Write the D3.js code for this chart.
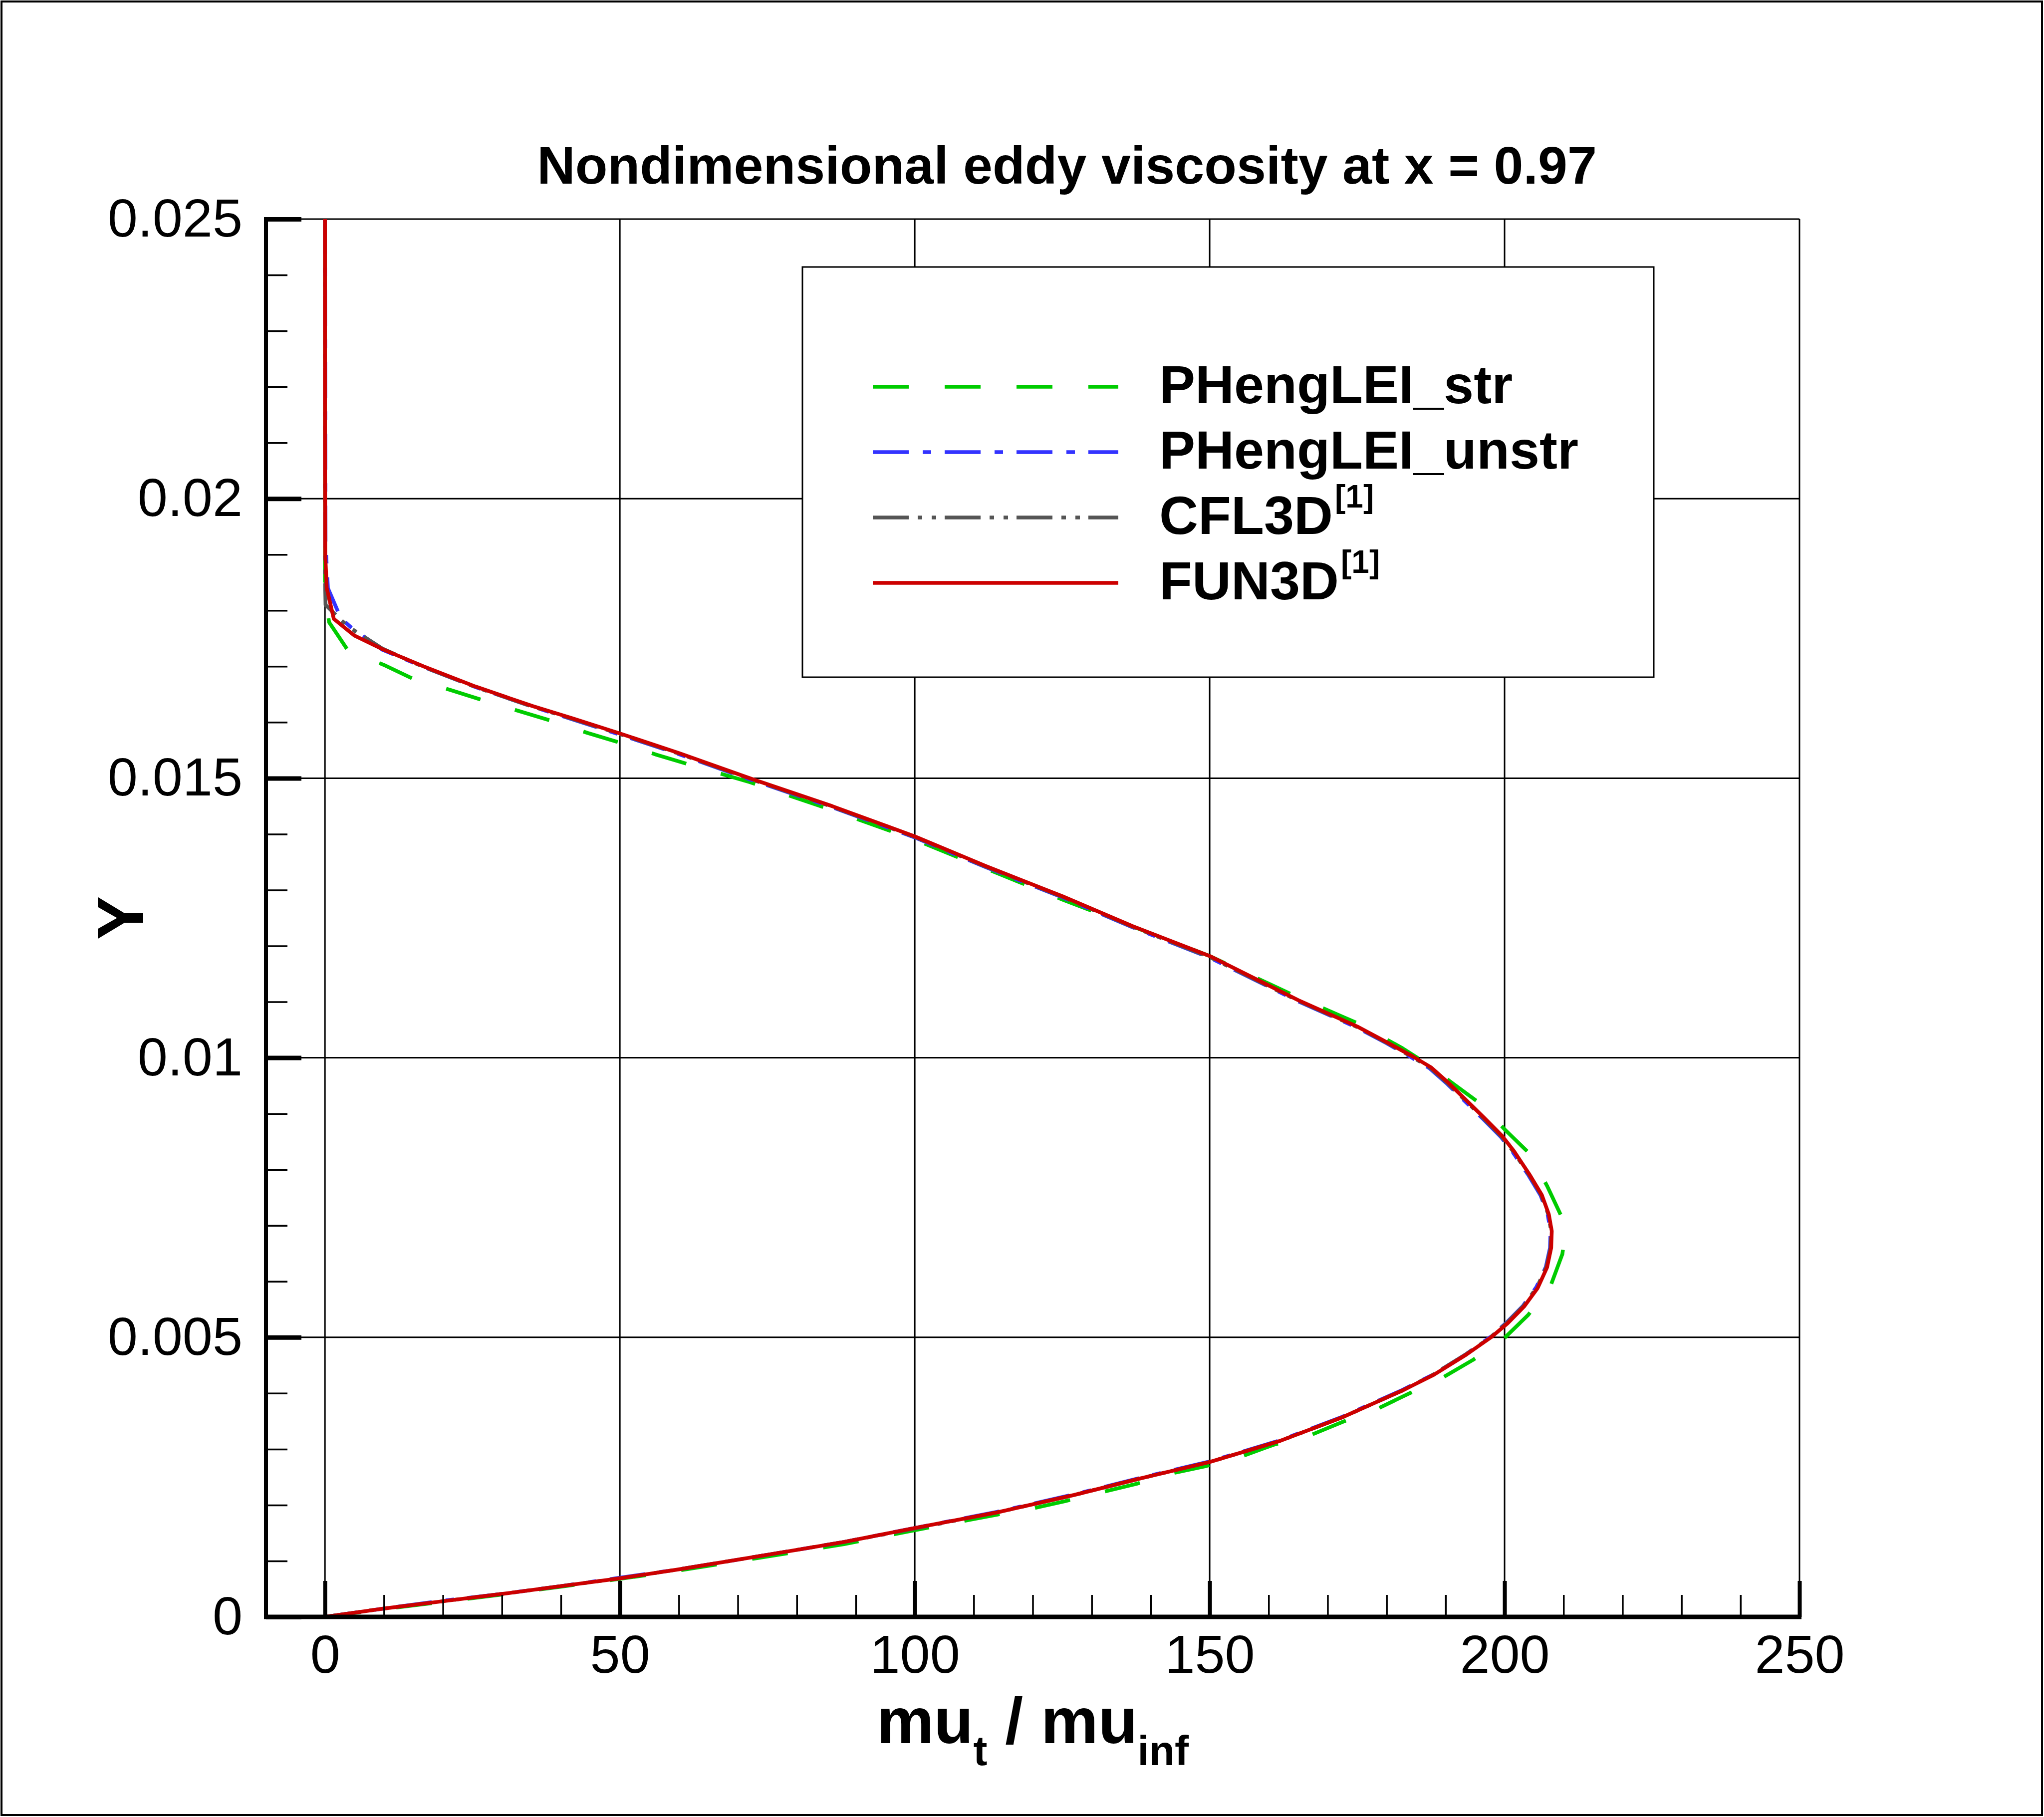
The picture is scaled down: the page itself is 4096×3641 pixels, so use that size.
<!DOCTYPE html>
<html>
<head>
<meta charset="utf-8">
<script src="https://cdn.jsdelivr.net/npm/d3@7"></script>
<style>
	body { margin: 0; background: #fff; }
	svg { display: block; }
	text { font-family: "Liberation Sans", Arial, Helvetica, sans-serif; fill: #000; }
</style>
</head>
<body>
<svg id="chart"></svg>
<script>
const WIDTH = 4096;
const HEIGHT = 3641;

// [mu_t / mu_inf, Y]
const fun3d = [
	[0, 0], [10, 0.00015], [20, 0.00028], [30, 0.00041], [40, 0.00055], [50, 0.00069],
	[60, 0.00085], [75, 0.00111], [88, 0.00134], [100, 0.00159], [114, 0.00187],
	[127, 0.00218], [138, 0.00247], [150, 0.00277], [162, 0.00315], [172.5, 0.00357],
	[182.7, 0.00405], [188, 0.00433], [193.5, 0.00469], [197.7, 0.005], [200.5, 0.00525],
	[203.3, 0.00555], [205.6, 0.00588], [207.2, 0.00625], [207.9, 0.0066], [208, 0.0069],
	[207.5, 0.0072], [206.3, 0.00755], [204.3, 0.0079], [201.6, 0.00833], [199.6, 0.0086],
	[196.5, 0.00893], [193.5, 0.00924], [190.5, 0.00955], [187.5, 0.00983], [184.5, 0.01002],
	[180, 0.01028], [175, 0.01056], [165, 0.01103], [150, 0.01182], [137, 0.01235],
	[125, 0.01289], [112, 0.01343], [100, 0.01396], [86, 0.0145], [72, 0.015],
	[60, 0.01545], [50, 0.0158], [42, 0.01607], [35.2, 0.01629], [25.5, 0.01664],
	[16.7, 0.017], [9.7, 0.01731], [5, 0.01755], [1.5, 0.01785], [0.3, 0.0184],
	[0.05, 0.019], [0, 0.021], [0, 0.025],
];

const cfl3d = [
	[0, 0], [10, 0.00015], [20, 0.00028], [30, 0.00041], [40, 0.00055], [50, 0.00069],
	[60, 0.00085], [75, 0.00111], [88, 0.00134], [100, 0.00158], [114, 0.00187],
	[127, 0.00218], [138, 0.00247], [150, 0.00277], [162, 0.00315], [172.5, 0.00357],
	[182.7, 0.00405], [188, 0.00434], [193.5, 0.0047], [197.6, 0.005], [200.4, 0.00526],
	[203.2, 0.00556], [205.5, 0.0059], [207.1, 0.00626], [207.8, 0.0066], [207.9, 0.0069],
	[207.4, 0.0072], [206.2, 0.00755], [204.2, 0.0079], [201.5, 0.00832], [199.5, 0.00859],
	[196.4, 0.00892], [193.4, 0.00923], [190.4, 0.00954], [187.4, 0.00982], [184.4, 0.01001],
	[180, 0.01027], [175, 0.01055], [165, 0.01102], [150, 0.0118], [137, 0.01234],
	[125, 0.01288], [112, 0.01342], [100, 0.01395], [86, 0.01449], [72, 0.01499],
	[60, 0.01544], [50, 0.01579], [42, 0.01606], [35.2, 0.01628], [25.5, 0.01663],
	[16.7, 0.01699], [9.7, 0.01732], [4.4, 0.01768], [2.8, 0.01782], [0.1, 0.0181],
	[0, 0.0186], [0, 0.025],
];

const phengleiUnstr = [
	[0, 0], [10, 0.00015], [20, 0.00029], [30, 0.00041], [40, 0.00055], [50, 0.0007],
	[60, 0.00085], [75, 0.00111], [88, 0.00134], [100, 0.00159], [114, 0.00188],
	[127, 0.00219], [138, 0.00248], [150, 0.00278], [162, 0.00316], [172.5, 0.00358],
	[182.7, 0.00406], [188, 0.00434], [193.5, 0.0047], [197.5, 0.005], [200.3, 0.00526],
	[203.1, 0.00556], [205.4, 0.0059], [207, 0.00626], [207.7, 0.0066], [207.8, 0.0069],
	[207.3, 0.0072], [206.1, 0.00754], [204.1, 0.00789], [201.4, 0.00831], [199.4, 0.00858],
	[196.3, 0.00891], [193.3, 0.00922], [190.3, 0.00953], [187.3, 0.00981], [184.3, 0.01],
	[180, 0.01026], [175, 0.01054], [165, 0.01101], [150, 0.01179], [137, 0.01233],
	[125, 0.01287], [112, 0.01341], [100, 0.01394], [86, 0.01448], [72, 0.01498],
	[60, 0.01543], [50, 0.01578], [42, 0.01605], [35.2, 0.01628], [25.5, 0.01663],
	[16.7, 0.01699], [9.7, 0.0173], [4.4, 0.0177], [2.7, 0.01786], [0.5, 0.0184],
	[0.3, 0.0188], [0.1, 0.0192], [0, 0.025],
];

const phengleiStr = [
	[0, 0], [10, 0.00014], [20, 0.00027], [30, 0.0004], [40, 0.00054], [50, 0.00068],
	[60, 0.00083], [75, 0.00108], [88, 0.0013], [100, 0.00155], [114, 0.00183],
	[120, 0.00194], [125.5, 0.00207], [131.7, 0.00223], [137.6, 0.00238], [143.7, 0.00257],
	[149.5, 0.0027], [155.4, 0.00287], [160.9, 0.00308], [167.1, 0.00325], [172.6, 0.00349],
	[178.4, 0.00372], [183.9, 0.004], [189.5, 0.00428], [194.7, 0.0046], [199.7, 0.00496],
	[204, 0.0054], [207.8, 0.00592], [209.8, 0.00649], [210.2, 0.0068], [209.7, 0.00715],
	[207.2, 0.00771], [204.3, 0.00828], [200.1, 0.00871], [196, 0.00917], [191.1, 0.00955],
	[186.4, 0.00992], [182.7, 0.01017], [175, 0.01062], [165, 0.01108], [150, 0.01182],
	[125, 0.01283], [100, 0.0139], [86, 0.01443], [72, 0.01493], [61.9, 0.01524],
	[56.2, 0.01542], [50.2, 0.01563], [44.5, 0.01581], [38.6, 0.01602], [32.9, 0.0162],
	[26.9, 0.01639], [21.2, 0.01658], [15.3, 0.01676], [9.9, 0.01703], [4, 0.01727],
	[0.7, 0.01779], [0, 0.0183], [0, 0.025],
];

const seriesNames = ["PHengLEI_str", "PHengLEI_unstr", "CFL3D", "FUN3D"];
const seriesSup = ["", "", "[1]", "[1]"];
const seriesData = [phengleiStr, phengleiUnstr, cfl3d, fun3d];
const seriesColors = ["#00cc00", "#3333ff", "#555555", "#cc0000"];
const seriesDash = ["72,72", "72,28,17,27", "72,18,9,19,9,17", null];

const xMajorTicks = [0, 50, 100, 150, 200, 250];
const yMajorTicks = [0, 0.005, 0.01, 0.015, 0.02, 0.025];
const yTickLabels = ["0", "0.005", "0.01", "0.015", "0.02", "0.025"];

const X_MIN = -10;
const X_MAX = 250;
const Y_MIN = 0;
const Y_MAX = 0.025;

const plotLeft = 533;
const plotRight = 3606;
const plotTop = 439;
const plotBottom = 3240;

const xScale = d3.scaleLinear([X_MIN, X_MAX], [plotLeft, plotRight]);
const yScale = d3.scaleLinear([Y_MIN, Y_MAX], [plotBottom, plotTop]);

const svg = d3.select("#chart").attr("width", WIDTH).attr("height", HEIGHT);

svg.append("rect")
	.attr("width", WIDTH)
	.attr("height", HEIGHT)
	.attr("fill", "#fff");

// outer frame
svg.append("rect")
	.attr("x", 3)
	.attr("y", 3)
	.attr("width", WIDTH - 7)
	.attr("height", HEIGHT - 7)
	.attr("fill", "none")
	.attr("stroke", "#000")
	.attr("stroke-width", 4);

// grid
svg.append("g")
	.selectAll("line")
	.data(xMajorTicks)
	.join("line")
	.attr("x1", d => xScale(d))
	.attr("x2", d => xScale(d))
	.attr("y1", yScale(Y_MIN))
	.attr("y2", yScale(Y_MAX))
	.attr("stroke", "#000")
	.attr("stroke-width", 3);

svg.append("g")
	.selectAll("line")
	.data(yMajorTicks.filter(d => d > 0))
	.join("line")
	.attr("x1", xScale(X_MIN))
	.attr("x2", xScale(X_MAX))
	.attr("y1", d => yScale(d))
	.attr("y2", d => yScale(d))
	.attr("stroke", "#000")
	.attr("stroke-width", 3);

// curves, straight segments between points like the original plot
const line = d3.line()
	.x(d => xScale(d[0]))
	.y(d => yScale(d[1]));

svg.append("g")
	.selectAll("path")
	.data(seriesData)
	.join("path")
	.attr("d", d => line(d))
	.attr("fill", "none")
	.attr("stroke", (d, i) => seriesColors[i])
	.attr("stroke-width", 7.5)
	.attr("stroke-dasharray", (d, i) => seriesDash[i])
	.attr("stroke-linejoin", "round");

// legend
const legend = svg.append("g");
legend.append("rect")
	.attr("x", 1608)
	.attr("y", 535)
	.attr("width", 1706)
	.attr("height", 822)
	.attr("fill", "#fff")
	.attr("stroke", "#000")
	.attr("stroke-width", 3);

const legendRows = legend.selectAll(".legend-row")
	.data(seriesNames)
	.join("g")
	.classed("legend-row", true)
	.attr("transform", (d, i) => `translate(0, ${775 + i * 131})`);

legendRows.append("line")
	.attr("x1", 1749)
	.attr("x2", 2241)
	.attr("stroke", (d, i) => seriesColors[i])
	.attr("stroke-width", 7.5)
	.attr("stroke-dasharray", (d, i) => seriesDash[i]);

const legendText = legendRows.append("text")
	.attr("x", 2323)
	.attr("y", 33)
	.attr("font-size", 108)
	.attr("font-weight", "bold");
legendText.append("tspan").text(d => d);
legendText.append("tspan")
	.attr("font-size", 64)
	.attr("dx", 4)
	.attr("dy", -53)
	.text((d, i) => seriesSup[i]);

// axes
const xAxis = d3.axisBottom(xScale)
	.tickValues(xMajorTicks)
	.tickFormat(d3.format("d"))
	.tickSizeInner(-72)
	.tickSizeOuter(0)
	.tickPadding(35);

const xMinor = d3.axisBottom(xScale)
	.tickValues(d3.range(10, 250, 10).filter(d => d % 50 !== 0))
	.tickFormat("")
	.tickSizeInner(-44)
	.tickSizeOuter(0);

const yAxis = d3.axisLeft(yScale)
	.tickValues(yMajorTicks)
	.tickFormat((d, i) => yTickLabels[i])
	.tickSizeInner(-71)
	.tickSizeOuter(0)
	.tickPadding(47);

const yMinor = d3.axisLeft(yScale)
	.tickValues(d3.range(1, 25).filter(d => d % 5 !== 0).map(d => d / 1000))
	.tickFormat("")
	.tickSizeInner(-43)
	.tickSizeOuter(0);

function styleAxis(g, tickWidth) {
	g.select(".domain").remove();
	g.selectAll(".tick line").attr("stroke", "#000").attr("stroke-width", tickWidth);
	g.selectAll(".tick text")
		.attr("font-size", 108)
		.attr("font-family", '"Liberation Sans", Arial, sans-serif')
		.attr("fill", "#000");
}

svg.append("g")
	.attr("transform", `translate(0, ${plotBottom})`)
	.call(xMinor)
	.call(g => styleAxis(g, 3.5));
svg.append("g")
	.attr("transform", `translate(0, ${plotBottom})`)
	.call(xAxis)
	.call(g => styleAxis(g, 8));
svg.append("g")
	.attr("transform", `translate(${plotLeft}, 0)`)
	.call(yMinor)
	.call(g => styleAxis(g, 3.5));
svg.append("g")
	.attr("transform", `translate(${plotLeft}, 0)`)
	.call(yAxis)
	.call(g => styleAxis(g, 9));

// main axis lines
svg.append("line")
	.attr("x1", plotLeft)
	.attr("x2", plotLeft)
	.attr("y1", plotTop - 4)
	.attr("y2", plotBottom + 4)
	.attr("stroke", "#000")
	.attr("stroke-width", 8);
svg.append("line")
	.attr("x1", plotLeft - 4)
	.attr("x2", plotRight + 4)
	.attr("y1", plotBottom)
	.attr("y2", plotBottom)
	.attr("stroke", "#000")
	.attr("stroke-width", 9);

// title
svg.append("text")
	.attr("x", 2138)
	.attr("y", 368)
	.attr("text-anchor", "middle")
	.attr("font-size", 106)
	.attr("font-weight", "bold")
	.text("Nondimensional eddy viscosity at x = 0.97");

// x axis title
const xTitle = svg.append("text")
	.attr("x", (plotLeft + plotRight) / 2)
	.attr("y", 3493)
	.attr("text-anchor", "middle")
	.attr("font-size", 129)
	.attr("font-weight", "bold");
xTitle.append("tspan").text("mu");
xTitle.append("tspan").attr("font-size", 84).attr("dy", 44).text("t");
xTitle.append("tspan").attr("dy", -44).text(" / mu");
xTitle.append("tspan").attr("font-size", 84).attr("dy", 44).text("inf");

// y axis title
svg.append("text")
	.attr("transform", `translate(287, ${(plotTop + plotBottom) / 2}) rotate(-90)`)
	.attr("text-anchor", "middle")
	.attr("font-size", 132)
	.attr("font-weight", "bold")
	.text("Y");
</script>
</body>
</html>
